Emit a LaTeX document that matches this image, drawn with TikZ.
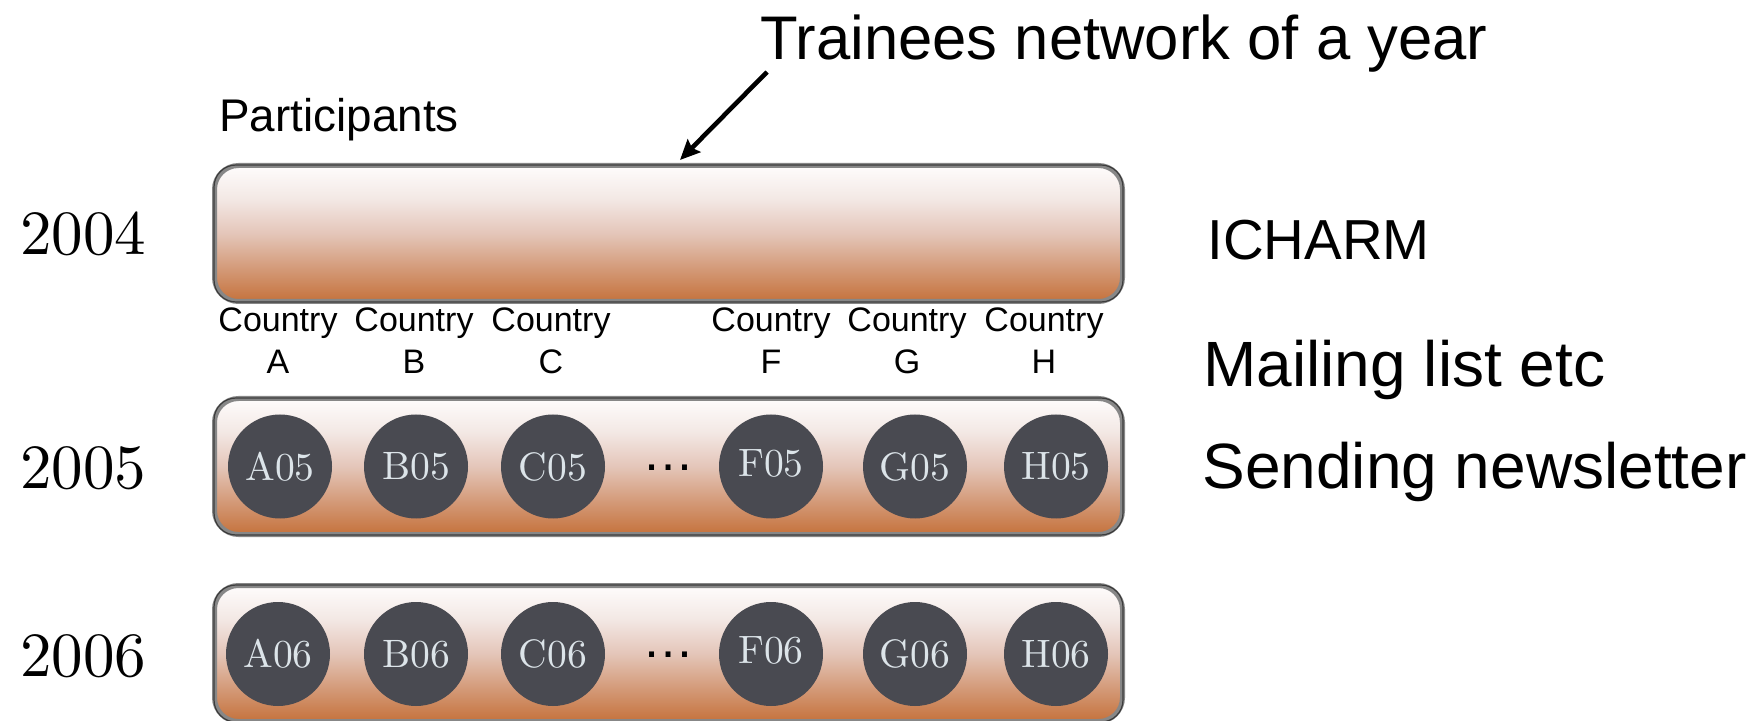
\documentclass[tikz,border=0pt]{standalone}
\usepackage{fontspec}
\newfontfamily\arialf{Liberation Sans}
\newfontfamily\lmten{lmroman10-regular.otf}
\usetikzlibrary{arrows.meta}
\definecolor{sh0}{RGB}{197,114,60}
\definecolor{sh1}{RGB}{212,155,122}
\definecolor{sh2}{RGB}{228,198,185}
\definecolor{sh3}{RGB}{243,232,228}
\definecolor{sh4}{RGB}{254,252,252}
\definecolor{bordergray}{RGB}{135,135,135}
\definecolor{borderdark}{RGB}{60,60,60}
\definecolor{circfill}{RGB}{73,74,81}
\definecolor{circtext}{RGB}{220,228,233}
\pgfdeclareverticalshading{boxshade}{100bp}{color(0bp)=(sh0); color(25bp)=(sh0); color(37.5bp)=(sh1); color(50bp)=(sh2); color(62.5bp)=(sh3); color(75bp)=(sh4); color(100bp)=(sh4)}
\tikzset{
  yearbox/.style={rectangle, rounded corners=12pt, draw=bordergray, line width=2.5pt,
    shade, shading=boxshade, minimum width=454pt, minimum height=68pt, inner sep=0pt},
  innerline/.style={draw=borderdark, line width=0.6pt, rounded corners=11pt},
  member/.style={circle, fill=circfill, minimum size=52pt, inner sep=0pt, text=circtext,
    font=\lmten\fontsize{19.8pt}{21pt}\selectfont},
  yearlabel/.style={anchor=base, inner sep=0pt, font=\lmten\fontsize{31.5pt}{36pt}\selectfont},
  country/.style={anchor=base, inner sep=0pt, align=center, font=\arialf\fontsize{17pt}{21pt}\selectfont},
  sidetext/.style={anchor=base west, inner sep=0pt},
  dotsnode/.style={inner sep=0pt, font=\arialf\fontsize{26pt}{30pt}\selectfont},
  pointer/.style={line width=2.3pt, -{Stealth[length=10pt,width=9pt,inset=1.5pt]}}
}
\begin{document}
\begin{tikzpicture}[x=0.5pt,y=-0.5pt]
\useasboundingbox (0,0) rectangle (1751,721);
% titles
\node[sidetext, font=\arialf\fontsize{30.8pt}{36pt}\selectfont] (title) at (760,60) {Trainees network of a year};
\node[sidetext, font=\arialf\fontsize{22.9pt}{27pt}\selectfont] (part) at (219,132) {Participants};
\node[sidetext, font=\arialf\fontsize{28.2pt}{33pt}\selectfont] (icharm) at (1207,260) {ICHARM};
\node[sidetext, font=\arialf\fontsize{32pt}{38pt}\selectfont] (mail) at (1203,387) {Mailing list etc};
\node[sidetext, font=\arialf\fontsize{32pt}{38pt}\selectfont] (send) at (1202,488) {Sending newsletter};
% boxes
\node[yearbox] (box1) at (668.5,233.5) {};
\node[yearbox] (box2) at (668.5,466.5) {};
\node[yearbox] (box3) at (668.5,653.5) {};
\foreach \b in {box1,box2,box3}{
  \draw[innerline] ([xshift=1pt,yshift=-1pt]\b.north west) rectangle ([xshift=-1pt,yshift=1pt]\b.south east);
}
% years
\node[yearlabel] (y04) at (83,255) {2004};
\node[yearlabel] (y05) at (83,488) {2005};
\node[yearlabel] (y06) at (83,676) {2006};
% countries
\node[country] (cA) at (278,374) {Country\\A};
\node[country] (cB) at (414,374) {Country\\B};
\node[country] (cC) at (551,374) {Country\\C};
\node[country] (cF) at (771,374) {Country\\F};
\node[country] (cG) at (907,374) {Country\\G};
\node[country] (cH) at (1044,374) {Country\\H};
% members 2005
\node[member] (A05) at (280,466.5) {A05};
\node[member] (B05) at (416,466.5) {B05};
\node[member] (C05) at (553,466.5) {C05};
\node[dotsnode] (d05) at (668,468) {…};
\node[member] (F05) at (771,466.5) {\raisebox{3.5pt}{F05}};
\node[member] (G05) at (915,466.5) {G05};
\node[member] (H05) at (1056,466.5) {H05};
% members 2006
\node[member] (A06) at (278,654) {A06};
\node[member] (B06) at (416,654) {B06};
\node[member] (C06) at (553,654) {C06};
\node[dotsnode] (d06) at (668,655) {…};
\node[member] (F06) at (771,654) {\raisebox{3.5pt}{F06}};
\node[member] (G06) at (915,654) {G06};
\node[member] (H06) at (1056,654) {H06};
% arrow
\coordinate (tail) at (767,72);
\coordinate (tip) at (680,160);
\draw[pointer] (tail) -- (tip);
\end{tikzpicture}
\end{document}
